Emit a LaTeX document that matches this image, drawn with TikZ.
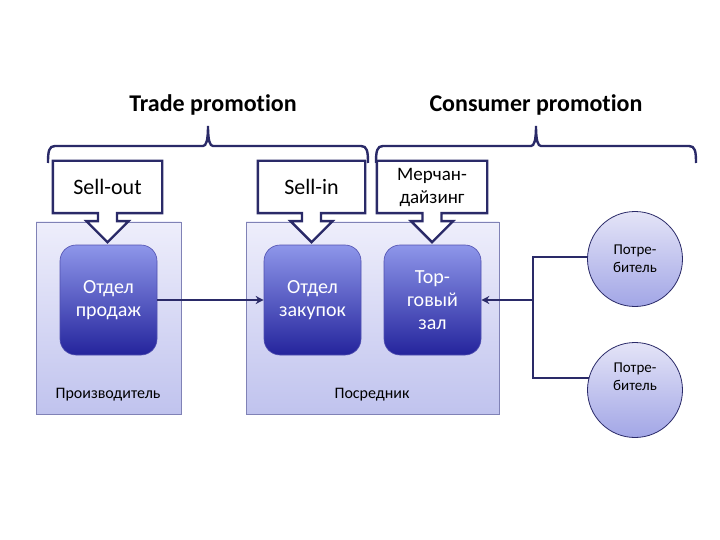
\documentclass[tikz,border=0pt]{standalone}
\usepackage{fontspec}
\setmainfont{Carlito}[Ligatures=NoCommon]
\usetikzlibrary{positioning,arrows.meta}

\definecolor{navy}{RGB}{42,42,104}
\definecolor{lavtop}{RGB}{238,238,251}
\definecolor{lavbot}{RGB}{192,195,238}
\definecolor{lavedge}{RGB}{128,130,182}
\definecolor{deptop}{RGB}{142,150,234}
\definecolor{depbot}{RGB}{36,36,156}
\definecolor{cirtop}{RGB}{228,228,247}
\definecolor{cirbot}{RGB}{162,166,230}

% arrow part under a callout box
\newcommand{\pointer}[1]{%
  \fill[white] ([xshift=-9.5pt,yshift=1.5pt]#1.south) -- ++(0,9.5) -- ++(-11.5,0)
    -- ([yshift=-29pt]#1.south) -- ++(21,-21) -- ++(-11.5,0)
    -- ([xshift=9.5pt,yshift=1.5pt]#1.south) -- cycle;
  \draw[calledge] (#1.south west) -- ([xshift=-9.5pt]#1.south) -- ++(0,8) -- ++(-11.5,0)
    -- ([yshift=-29pt]#1.south) -- ++(21,-21) -- ++(-11.5,0)
    -- ([xshift=9.5pt]#1.south) -- (#1.south east) -- (#1.north east)
    -- (#1.north west) -- cycle;}

\begin{document}
\begin{tikzpicture}[x=1pt, y=-1pt,
    title/.style = {font=\fontsize{24}{29}\selectfont\bfseries},
    brace/.style = {draw=navy, line width=2.4pt},
    callout/.style = {fill=white, minimum height=52pt, inner sep=0pt, align=center,
                      font=\fontsize{22}{26}\selectfont},
    calledge/.style = {draw=navy, line width=2.4pt, line join=miter},
    firm/.style = {draw=lavedge, line width=0.6pt, top color=lavtop, bottom color=lavbot,
                   minimum width=145pt, minimum height=192pt},
    dept/.style = {draw=depbot!80!white, line width=0.6pt, rounded corners=16pt,
                   top color=deptop, bottom color=depbot, text=white, align=center,
                   minimum width=97pt, minimum height=110pt,
                   font=\fontsize{20}{23}\selectfont},
    client/.style = {draw=navy, line width=0.8pt, circle, minimum size=95pt, inner sep=0pt,
                     top color=cirtop, bottom color=cirbot, align=center,
                     font=\fontsize{15}{18}\selectfont},
    small/.style = {font=\fontsize{16}{19}\selectfont},
    link/.style = {draw=navy, line width=2pt}]
    \useasboundingbox (0,0) rectangle (720,540);

    % headings and braces
    \node[title] (trade) at (213,105) {Trade promotion};
    \node[title] (consumer) at (536,105) {Consumer promotion};
    \draw[brace] (48,163) .. controls (48,151) and (49,146) .. (55,146) -- (203,146)
        .. controls (206,146) and (208,141) .. (208,126)
        .. controls (208,141) and (210,146) .. (213,146) -- (361,146)
        .. controls (367,146) and (368,151) .. (368,163);
    \draw[brace] (376,163) .. controls (376,151) and (377,146) .. (383,146) -- (531,146)
        .. controls (534,146) and (536,141) .. (536,126)
        .. controls (536,141) and (538,146) .. (541,146) -- (689,146)
        .. controls (695,146) and (696,151) .. (696,163);

    % firms
    \node[firm] (maker) at (108.5,318) {};
    \node[firm, minimum width=253pt] (dealer) at (372.5,318) {};
    \node[small] (makerlbl) at (108,395) {Производитель};
    \node[small] (dealerlbl) at (372,395) {Посредник};

    % departments
    \node[dept] (sales) at (108.5,300) {Отдел\\продаж};
    \node[dept] (purchase) at (312.5,300) {Отдел\\закупок};
    \node[dept] (floor) at (432.5,300) {Тор-\\говый\\зал};

    % callouts
    \node[callout, minimum width=109pt] (sellout) at (107.5,187) {Sell-out};
    \pointer{sellout}
    \node[callout, minimum width=107pt] (sellin) at (311.5,187) {Sell-in};
    \pointer{sellin}
    \node[callout, minimum width=110pt, font=\fontsize{19}{23}\selectfont] (merch) at (432,187) {Мерчан-\\дайзинг};
    \pointer{merch}

    % consumers
    \node[client] (cons1) at (635,259) {Потре-\\битель};
    \node[client] (cons2) at (635,390) {Потре-\\битель\\[8pt]};
    \coordinate (fork) at (533,300);

    \draw[link, -{Stealth[length=8pt,width=8pt]}] (sales.east) -- (purchase.west);
    \draw[link] (cons1.178) -| (fork);
    \draw[link] (cons2.165) -| (fork);
    \draw[link, -{Stealth[length=8pt,width=8pt]}] (fork) -- (floor.east);
\end{tikzpicture}
\end{document}
